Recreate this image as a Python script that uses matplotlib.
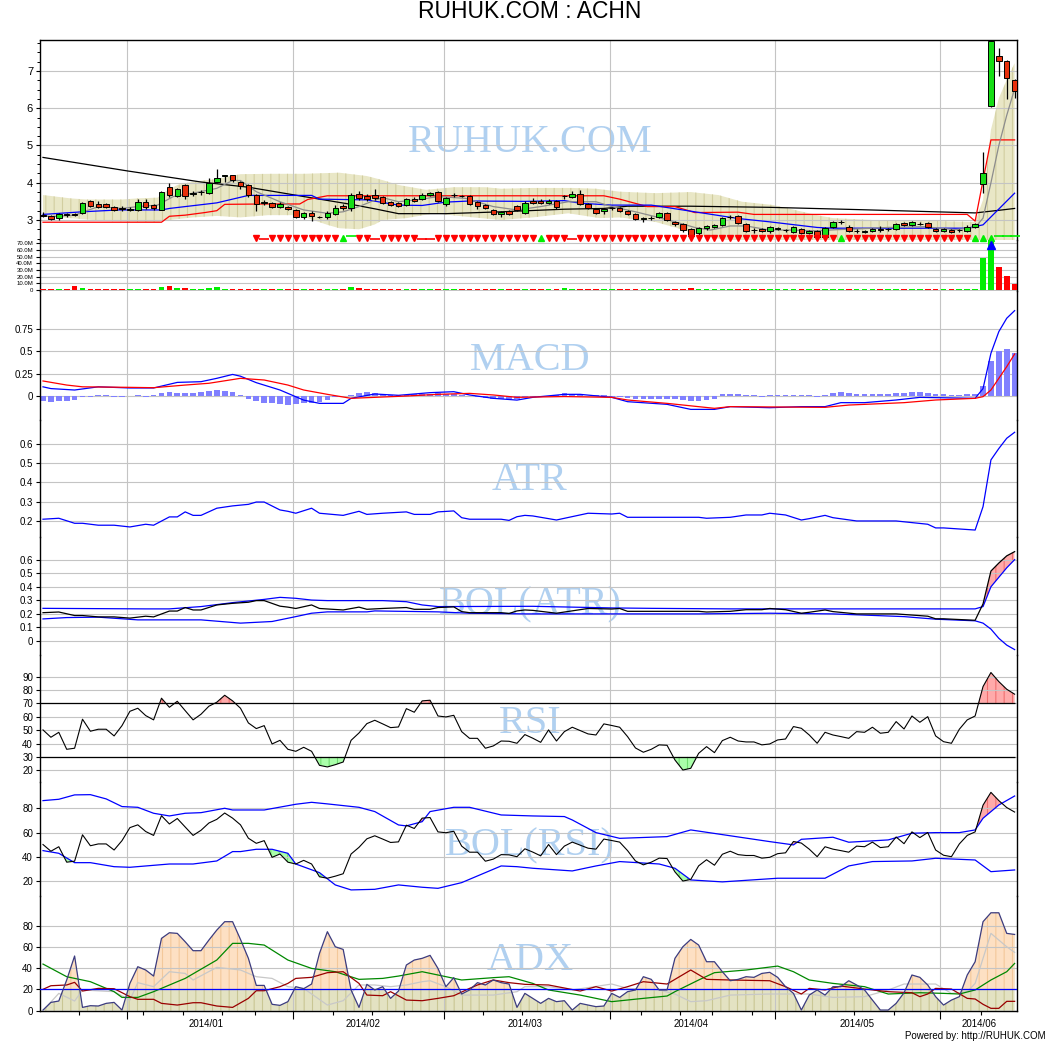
import numpy as np
import matplotlib
matplotlib.use("Agg")
import matplotlib.pyplot as plt
from matplotlib.patches import Polygon

# ---------------- data (ACHN, daily, Dec 2013 - Jun 2014) ----------------
opens = [3.14, 3.11, 3.05, 3.15, 3.16, 3.19, 3.51, 3.43, 3.43, 3.35,
         3.31, 3.28, 3.27, 3.48, 3.39, 3.27, 3.89, 3.65, 3.94, 3.70,
         3.74, 3.72, 4.02, 4.19, 4.20, 4.02, 3.94, 3.67, 3.46, 3.46,
         3.35, 3.35, 3.27, 3.08, 3.19, 3.09, 3.08, 3.16, 3.38, 3.32,
         3.70, 3.64, 3.67, 3.62, 3.48, 3.46, 3.40, 3.56, 3.56, 3.67,
         3.75, 3.43, 3.66, 3.65, 3.64, 3.48, 3.40, 3.27, 3.16, 3.24,
         3.38, 3.19, 3.51, 3.51, 3.46, 3.51, 3.64, 3.62, 3.70, 3.43,
         3.30, 3.24, 3.32, 3.32, 3.24, 3.16, 3.03, 3.05, 3.08, 3.19,
         2.95, 2.89, 2.76, 2.65, 2.79, 2.81, 2.87, 3.07, 3.11, 2.89,
         2.73, 2.76, 2.70, 2.76, 2.73, 2.68, 2.76, 2.65, 2.70, 2.54,
         2.81, 2.94, 2.81, 2.70, 2.68, 2.70, 2.76, 2.75, 2.76, 2.92,
         2.86, 2.89, 2.92, 2.76, 2.70, 2.73, 2.73, 2.70, 2.81, 3.97,
         6.05, 7.40, 7.26, 6.75]
closes = [3.11, 3.03, 3.16, 3.13, 3.14, 3.46, 3.38, 3.36, 3.36, 3.27,
          3.30, 3.29, 3.48, 3.36, 3.31, 3.75, 3.67, 3.83, 3.65, 3.72,
          3.75, 3.99, 4.13, 4.20, 4.07, 3.91, 3.67, 3.43, 3.47, 3.35,
          3.43, 3.30, 3.08, 3.19, 3.10, 3.08, 3.19, 3.32, 3.32, 3.67,
          3.59, 3.56, 3.59, 3.46, 3.40, 3.38, 3.56, 3.51, 3.67, 3.72,
          3.51, 3.59, 3.67, 3.64, 3.43, 3.38, 3.32, 3.16, 3.21, 3.16,
          3.27, 3.46, 3.46, 3.46, 3.51, 3.35, 3.65, 3.70, 3.43, 3.32,
          3.19, 3.30, 3.33, 3.24, 3.16, 3.03, 3.03, 3.06, 3.19, 3.00,
          2.89, 2.73, 2.57, 2.79, 2.84, 2.87, 3.05, 3.08, 2.92, 2.70,
          2.74, 2.70, 2.81, 2.77, 2.74, 2.81, 2.65, 2.70, 2.54, 2.78,
          2.95, 2.95, 2.70, 2.71, 2.69, 2.76, 2.73, 2.75, 2.89, 2.86,
          2.95, 2.89, 2.81, 2.70, 2.76, 2.68, 2.73, 2.81, 2.88, 4.25,
          7.80, 7.28, 6.82, 6.46]
highs = [3.22, 3.13, 3.19, 3.19, 3.19, 3.48, 3.54, 3.51, 3.46, 3.38,
         3.38, 3.35, 3.56, 3.56, 3.43, 3.78, 3.99, 3.86, 3.97, 3.78,
         3.80, 4.13, 4.37, 4.22, 4.22, 4.05, 3.97, 3.70, 3.54, 3.48,
         3.48, 3.38, 3.30, 3.21, 3.24, 3.11, 3.24, 3.40, 3.43, 3.72,
         3.78, 3.70, 3.83, 3.64, 3.51, 3.48, 3.59, 3.62, 3.72, 3.75,
         3.78, 3.62, 3.72, 3.67, 3.67, 3.51, 3.43, 3.30, 3.24, 3.27,
         3.40, 3.51, 3.59, 3.56, 3.56, 3.54, 3.67, 3.78, 3.80, 3.46,
         3.32, 3.32, 3.35, 3.35, 3.27, 3.19, 3.08, 3.11, 3.21, 3.21,
         2.97, 2.92, 2.79, 2.81, 2.87, 2.89, 3.08, 3.13, 3.13, 2.92,
         2.79, 2.79, 2.84, 2.81, 2.76, 2.84, 2.79, 2.73, 2.73, 2.81,
         2.97, 3.00, 2.87, 2.76, 2.73, 2.79, 2.84, 2.78, 2.92, 2.95,
         2.97, 2.95, 2.95, 2.79, 2.79, 2.76, 2.76, 2.87, 2.92, 4.83,
         8.10, 7.61, 7.30, 6.79]
lows = [3.08, 3.00, 3.01, 3.08, 3.10, 3.16, 3.35, 3.33, 3.33, 3.24,
        3.24, 3.24, 3.25, 3.30, 3.28, 3.27, 3.62, 3.62, 3.56, 3.65,
        3.66, 3.70, 4.00, 4.02, 4.02, 3.83, 3.62, 3.25, 3.40, 3.32,
        3.33, 3.27, 3.05, 3.03, 2.98, 3.05, 3.03, 3.14, 3.27, 3.25,
        3.54, 3.50, 3.54, 3.43, 3.38, 3.35, 3.38, 3.48, 3.54, 3.64,
        3.48, 3.38, 3.62, 3.62, 3.40, 3.30, 3.30, 3.13, 3.08, 3.13,
        3.24, 3.16, 3.43, 3.43, 3.43, 3.30, 3.56, 3.59, 3.40, 3.30,
        3.16, 3.16, 3.27, 3.21, 3.13, 3.00, 2.95, 3.00, 3.05, 2.97,
        2.84, 2.68, 2.54, 2.57, 2.73, 2.78, 2.84, 3.03, 2.89, 2.68,
        2.65, 2.68, 2.65, 2.73, 2.68, 2.65, 2.62, 2.62, 2.52, 2.52,
        2.79, 2.89, 2.68, 2.65, 2.65, 2.68, 2.68, 2.70, 2.73, 2.84,
        2.84, 2.86, 2.78, 2.68, 2.68, 2.65, 2.68, 2.68, 2.79, 3.72,
        6.02, 6.87, 6.25, 6.27]
volume_m = [1.5, 1.5, 1.2, 1.0, 6.0, 3.5, 1.2, 1.5, 1.5, 2.0,
            1.2, 1.2, 1.5, 2.0, 2.0, 4.0, 6.5, 2.5, 3.0, 1.0,
            1.5, 2.5, 4.0, 1.5, 1.5, 1.5, 2.0, 2.0, 1.0, 2.0,
            1.0, 1.5, 1.5, 1.0, 1.5, 1.0, 1.2, 1.5, 1.5, 4.0,
            3.0, 1.5, 1.5, 1.5, 1.5, 1.5, 1.2, 1.5, 1.5, 1.2,
            1.5, 1.2, 1.0, 1.0, 1.5, 1.5, 1.5, 1.5, 1.2, 1.5,
            1.5, 1.2, 1.5, 1.5, 1.2, 1.5, 3.0, 1.2, 1.5, 1.5,
            1.5, 1.2, 1.0, 1.5, 1.5, 1.5, 1.0, 1.2, 1.5, 1.5,
            1.5, 1.5, 2.5, 1.0, 1.2, 1.2, 1.5, 1.0, 1.5, 1.5,
            1.2, 1.5, 1.5, 1.5, 1.2, 1.2, 1.5, 1.5, 1.5, 1.5,
            1.5, 1.2, 1.5, 1.2, 1.0, 1.2, 2.0, 1.0, 1.5, 1.2,
            1.5, 1.2, 1.5, 1.5, 1.2, 1.5, 1.0, 1.2, 1.0, 48.0,
            95.0, 35.0, 21.0, 9.0]
# one signal per bar: v = sell triangle, ^ = buy triangle, - / = = dashes, blank = none
signals = ("                           v-vvvvvvvvv^=vv-vvvvv--vvvvvvvvvvvvv^vvv-"
           "vvvvvvvvvvvvvvvvvvvvvvvvvvvvvvvvv^vvvvvvvvvvvvvvvv^^^===")

# price overlays: (bar, value) vertices
ma_long = [(0, 4.68), (10.6, 4.32), (20, 4.02), (26, 3.88), (33, 3.63), (39, 3.42), (42, 3.30),
           (45, 3.17), (51, 3.17), (58, 3.22), (66, 3.29), (71, 3.31), (74, 3.37), (82, 3.37),
           (92, 3.34), (103, 3.28), (113, 3.22), (118, 3.19), (121, 3.26), (123, 3.31)]
mid_blue = [(0, 3.15), (5, 3.22), (9.6, 3.27), (15, 3.27), (16, 3.31), (22, 3.46), (26, 3.66),
            (34, 3.66), (35, 3.56), (41, 3.54), (45, 3.40), (48, 3.39), (51, 3.48), (54, 3.51),
            (61, 3.50), (66, 3.52), (68, 3.45), (72, 3.40), (77, 3.40), (82.5, 3.22), (88, 3.04),
            (92, 2.95), (98, 2.80), (100, 2.78), (117, 2.78), (119, 2.87), (123, 3.72)]
stop_red = [(0, 2.94), (15, 2.94), (16, 3.10), (18, 3.13), (20.5, 3.20), (22, 3.25), (23, 3.42),
            (28, 3.43), (32.5, 3.43), (33.5, 3.55), (36, 3.65), (71, 3.65), (73, 3.56), (76.5, 3.36),
            (80, 3.36), (82.5, 3.20), (88, 3.21), (90, 3.15), (117, 3.15), (118, 2.97), (120, 5.15),
            (123, 5.15)]
ma_short = [(0, 3.12), (1, 3.09), (4, 3.13), (7, 3.36), (10, 3.31), (12, 3.36), (14.5, 3.40),
            (16.5, 3.63), (19, 3.72), (22, 3.85), (24, 4.06), (25, 4.06), (27, 3.76), (30, 3.49),
            (33, 3.27), (36, 3.18), (38, 3.22), (40, 3.36), (41.5, 3.49), (43, 3.60), (45, 3.49),
            (48, 3.56), (50, 3.63), (53.5, 3.58), (57, 3.36), (60, 3.27), (63, 3.36), (66.5, 3.49),
            (70, 3.49), (72, 3.36), (75, 3.22), (77.5, 3.09), (80, 2.95), (82.5, 2.80), (84.5, 2.73),
            (87, 2.84), (89, 2.84), (92, 2.73), (94.5, 2.73), (98, 2.71), (100.5, 2.74), (103, 2.76),
            (107, 2.80), (111.5, 2.82), (115.5, 2.74), (118, 2.80), (119, 3.05), (120, 4.00),
            (121, 5.00), (122, 5.81), (123, 6.52)]
band_up = [(0, 3.67), (3.5, 3.58), (5.5, 3.55), (10, 3.55), (12, 3.58), (14.5, 3.60), (15.5, 3.76),
           (17, 3.94), (19, 4.03), (22, 4.10), (25, 4.23), (29, 4.24), (33, 4.24), (37.5, 4.27),
           (41, 4.18), (43, 4.07), (45, 3.94), (48.5, 3.81), (52, 3.88), (56, 3.88), (58, 3.84),
           (62, 3.86), (67, 3.86), (70, 3.84), (73, 3.76), (77.5, 3.72), (82, 3.75), (85.5, 3.67),
           (88.5, 3.49), (92.5, 3.40), (98, 3.13), (100, 3.05), (105, 3.00), (111.5, 2.98),
           (118, 2.95), (119, 3.54), (120, 5.42), (121, 6.27), (122, 6.76), (123, 7.21)]
band_lo = [(0, 3.09), (3.5, 3.05), (8, 2.97), (14.5, 2.94), (16, 3.00), (19, 3.07), (22, 3.11),
           (25, 3.07), (28.5, 3.13), (31.5, 3.13), (33.5, 3.05), (36, 2.87), (37.5, 2.78), (40, 2.75),
           (42, 2.88), (43, 3.00), (46, 3.05), (49.5, 3.18), (53.5, 3.09), (58, 3.00), (62, 3.07),
           (66.5, 3.18), (70.5, 3.05), (73, 3.07), (77.5, 2.95), (80, 2.80), (82.5, 2.64), (85, 2.52),
           (88, 2.40), (118, 2.40), (120, 1.50), (123, 1.00)]

# MACD
macd_line = [(0, .10), (1, .08), (4, .064), (7, .10), (11, .087), (14, .087), (17, .15), (20, .158),
             (22, .196), (24, .24), (25, .22), (27, .147), (30, .064), (31, .026), (33, -.05),
             (35, -.087), (38, -.087), (39, -.03), (42, .019), (45, .004), (49, .034), (52, .045),
             (54, .008), (57, -.03), (60, -.05), (62, -.019), (66, .015), (68, .015), (72, -.019),
             (74, -.068), (79, -.098), (82, -.155), (85, -.155), (87, -.124), (92, -.136), (96, -.124),
             (99, -.124), (101, -.079), (104, -.079), (108, -.049), (111, -.019), (118, -.03),
             (119, .08), (120, .479), (121, .724), (122, .875), (123, .961)]
macd_signal = [(0, .166), (3, .12), (5, .10), (11, .094), (14, .09), (18, .12), (21, .14), (25, .196),
               (28, .177), (31, .12), (33, .064), (36, .015), (39, -.03), (42, -.019), (46, -.004),
               (50, .015), (54, .026), (57, .008), (60, -.019), (66, -.01), (72, -.019), (74, -.049),
               (79, -.087), (85, -.143), (87, -.124), (99, -.132), (102, -.106), (109, -.079),
               (113, -.049), (118, -.03), (119, -.011), (120, .064), (121, .196), (122, .328),
               (123, .471)]
macd_hist = [-0.06, -0.068, -0.057, -0.057, -0.05, -0.02, -0.01, 0.004, 0.004, -0.015,
             -0.015, -0.008, 0.004, -0.01, 0.008, 0.026, 0.038, 0.026, 0.026, 0.026,
             0.04, 0.053, 0.064, 0.053, 0.038, 0.004, -0.038, -0.057, -0.08, -0.08,
             -0.09, -0.10, -0.098, -0.087, -0.08, -0.068, -0.05, -0.02, -0.004, 0.011,
             0.026, 0.038, 0.03, 0.02, 0.008, 0.004, 0.011, 0.015, 0.02, 0.023,
             0.026, 0.02, 0.015, 0.004, -0.008, -0.019, -0.026, -0.034, -0.038, -0.042,
             -0.042, -0.01, -0.01, -0.01, -0.008, 0.004, 0.026, 0.02, 0.004, -0.005,
             0.004, 0.004, -0.019, -0.019, -0.03, -0.034, -0.038, -0.038, -0.038, -0.042,
             -0.042, -0.05, -0.057, -0.057, -0.05, -0.034, 0.015, 0.015, 0.015, 0.004,
             0.004, -0.01, 0.004, 0.004, 0.004, 0.004, 0.004, 0.004, -0.01, 0.004,
             0.026, 0.04, 0.026, 0.015, 0.015, 0.015, 0.015, 0.015, 0.026, 0.026,
             0.04, 0.04, 0.026, 0.015, 0.015, 0.004, 0.004, 0.015, 0.015, 0.11,
             0.39, 0.505, 0.528, 0.486]

# ATR and its bands
atr = [(0, .209), (2, .214), (4, .188), (5, .188), (7, .178), (9, .178), (11, .169), (13, .183),
       (14, .178), (16, .221), (17, .221), (18, .247), (19, .229), (20, .229), (22, .266), (24, .278),
       (26, .286), (27, .298), (28, .298), (30, .257), (31, .25), (32, .24), (34, .266), (35, .24),
       (38, .229), (40, .25), (41, .234), (43, .24), (46, .247), (47, .234), (49, .234), (50, .247),
       (52, .252), (53, .217), (54, .209), (58, .209), (59, .203), (60, .222), (61, .229), (62, .226),
       (65, .205), (69, .24), (72, .236), (73, .24), (74, .219), (83, .219), (84, .214), (87, .219),
       (89, .231), (91, .231), (92, .24), (94, .231), (96, .205), (97, .212), (99, .229), (100, .217),
       (103, .2), (108, .2), (112, .183), (113, .164), (114, .164), (118, .153), (119, .274),
       (120, .516), (121, .575), (122, .628), (123, .659)]
atr_up = [(0, .241), (13, .237), (16, .237), (20, .254), (24, .283), (28, .307), (30, .322), (32, .315),
          (34, .302), (36, .298), (43, .298), (46, .29), (48, .266), (50, .254), (62, .256), (72, .244),
          (77, .241), (87, .237), (118, .237), (119, .254), (120, .40), (121, .47), (122, .54), (123, .60)]
atr_lo = [(0, .163), (3, .173), (7, .176), (12, .156), (20, .156), (25, .132), (29, .144), (32, .18),
          (34, .205), (36, .215), (41, .215), (42, .222), (50, .215), (54, .205), (61, .2), (72, .2),
          (83, .2), (92, .205), (100, .2), (109, .18), (113, .161), (118, .149), (119, .132),
          (120, .088), (121, .02), (122, -.03), (123, -.063)]

# RSI and its bands
rsi = [50.2, 44.7, 48.4, 35.7, 36.5, 58.2, 49.2, 50.7, 50.7, 45.7,
       53.4, 64.1, 66.4, 60.9, 57.7, 73.9, 67.1, 71.6, 64.6, 57.7,
       61.9, 67.9, 70.9, 76.1, 71.9, 66.4, 55.4, 51.2, 53.4, 39.7,
       42.4, 35.7, 34.2, 37.2, 34.2, 23.7, 22.5, 24.2, 26.2, 42.4,
       47.9, 54.9, 57.4, 54.7, 51.9, 52.4, 66.1, 63.4, 71.9, 72.4,
       60.6, 59.9, 61.1, 48.9, 43.9, 43.9, 36.5, 38.2, 41.9, 41.7,
       40.2, 46.7, 44.0, 40.9, 50.2, 41.9, 48.9, 52.2, 49.7, 47.2,
       46.4, 54.7, 53.5, 52.2, 45.2, 36.7, 33.5, 35.7, 39.0, 38.7,
       27.7, 20.2, 21.5, 32.7, 37.7, 33.2, 42.2, 44.7, 41.9, 41.2,
       41.2, 39.0, 39.7, 42.7, 43.4, 52.7, 51.4, 46.4, 40.2, 48.4,
       46.4, 45.2, 43.9, 48.9, 48.4, 52.2, 47.7, 48.4, 56.4, 50.9,
       60.6, 55.9, 60.1, 45.7, 41.4, 40.2, 50.7, 57.7, 60.6, 82.6,
       93.1, 86.3, 80.6, 76.9]
rsi_up = [(0, 86.3), (2, 87.4), (4, 91), (6, 91.2), (8, 87.7), (10, 81.4), (12, 80.8), (14, 75.9),
          (16, 73.7), (18, 75.9), (20, 76.4), (23, 80), (24, 78.6), (28, 78.6), (32, 83.3), (34, 84.9),
          (36, 83.6), (40, 80.8), (42, 77.3), (45, 66.3), (46, 65.5), (48, 69), (49, 77.3), (52, 80.8),
          (54, 80.8), (58, 74.5), (62, 73.7), (66, 73.2), (67, 70.4), (70, 60), (73, 55.3), (79, 56.7),
          (82, 62.2), (92, 52.6), (95, 49.9), (96, 54.5), (100, 56.2), (102, 52.1), (107, 54),
          (110, 59.5), (113, 60), (116, 60), (118, 62.2), (119, 71.8), (121, 82.7), (123, 90.1)]
rsi_lo = [(0, 45.2), (2, 43), (4, 35.3), (6, 35.3), (9, 32), (11, 31.5), (16, 34.2), (19, 34.2),
          (22, 36.7), (24, 44.4), (25, 44.4), (27, 46.3), (29, 46.3), (31, 43), (32, 34.2), (35, 27.1),
          (37, 17), (39, 12.9), (42, 13.4), (45, 17), (48, 15.1), (50, 14.2), (53, 18.9), (58, 32.6),
          (60, 32), (62, 30.7), (67, 28.5), (70, 32.6), (73, 36.2), (78, 34.2), (80, 30.7), (82, 21.1),
          (86, 19.5), (93, 22.5), (99, 22.5), (102, 32.6), (105, 36.2), (110, 36.7), (113, 38.9),
          (118, 37.5), (120, 27.9), (123, 29.3)]

# ADX panel
dx = [0.6, 7.8, 9.1, 28.9, 51.5, 3.1, 4.7, 4.4, 6.9, 7.8,
      0.6, 25.7, 41.4, 38.3, 32.6, 68.1, 73.4, 72.8, 64.9, 56.5,
      56.5, 66.5, 75.9, 83.8, 83.8, 67.1, 49.3, 23.8, 23.8, 6.0,
      5.0, 8.5, 22.6, 20.7, 25.1, 54.0, 74.4, 60.2, 57.7, 19.5,
      3.1, 24.8, 19.5, 22.6, 11.6, 18.5, 43.0, 47.7, 49.3, 52.1,
      39.8, 22.6, 31.1, 15.7, 19.5, 26.4, 24.2, 28.9, 26.4, 25.1,
      3.1, 16.3, 11.6, 6.9, 11.6, 8.5, 9.4, 0.6, 6.9, 5.3,
      3.8, 4.4, 16.3, 12.5, 17.9, 19.5, 32.0, 29.5, 19.5, 19.5,
      49.3, 60.2, 67.1, 61.8, 46.1, 46.1, 36.7, 28.2, 29.5, 32.0,
      31.4, 35.1, 36.1, 31.4, 22.6, 16.3, 0.6, 14.7, 19.5, 14.7,
      22.6, 22.6, 28.2, 24.2, 19.5, 10.0, 0.6, 0.6, 6.9, 16.9,
      33.6, 31.4, 24.2, 13.2, 5.3, 10.0, 13.2, 33.6, 46.1, 83.8,
      92.2, 92.2, 72.8, 71.8]
adx_line = [(0, 43.9), (3, 32), (6, 27.3), (9, 17.9), (10, 12.5), (12, 12.5), (14, 17.9), (17, 27.3),
            (18, 30.4), (22, 47.7), (24, 63.4), (26, 63.4), (28, 61.8), (31, 47.7), (34, 39.8),
            (37, 36.7), (40, 29.5), (43, 30.4), (45, 32.6), (48, 36.7), (50, 33.6), (53, 28.9),
            (57, 31.1), (59, 32), (62, 25.7), (64, 19.5), (68, 14.7), (72, 8.5), (76, 11.6), (79, 13.8),
            (80, 17.9), (83, 28.9), (85, 35.8), (89, 38.3), (93, 42), (95, 36.7), (97, 28.9),
            (100, 25.7), (104, 22.6), (107, 15.7), (111, 16.9), (114, 16.3), (116, 15.7), (118, 19.5),
            (120, 28.9), (122, 36.7), (123, 44.5)]
di_minus = [(0, 20.1), (1, 23.5), (3, 24.2), (4, 26.7), (5, 18.5), (7, 21), (9, 20.7), (11, 13.2),
            (12, 10.7), (14, 10.7), (15, 6.9), (17, 5.3), (19, 7.5), (20, 7.5), (22, 4.4), (24, 3.1),
            (26, 11.6), (27, 18.8), (28, 18.8), (30, 22.6), (31, 25.7), (32, 30.4), (34, 31.4),
            (36, 35.8), (38, 36.7), (40, 25.7), (41, 14.7), (43, 14.1), (44, 17.9), (46, 10), (48, 9.4),
            (50, 11.6), (52, 14.1), (54, 21), (55, 24.2), (57, 28.9), (59, 26.4), (61, 24.8), (64, 24.2),
            (68, 18.5), (70, 22.6), (72, 18.5), (74, 22.6), (76, 27.3), (79, 25.1), (82, 38.3),
            (84, 29.5), (87, 28.9), (92, 28.2), (94, 22.6), (96, 15.7), (97, 21), (99, 19.5),
            (101, 23.2), (104, 20.4), (107, 17.9), (110, 16.9), (111, 13.2), (112, 15.7), (113, 21),
            (115, 20.4), (117, 11.6), (118, 11), (119, 6), (120, 2.2), (121, 2.2), (122, 8.8), (123, 8.8)]
di_plus = [(0, 0), (2, 16.3), (4, 9.1), (5, 19.5), (9, 17.9), (11, 10), (12, 26.4), (14, 22.6),
           (16, 36.7), (18, 35.1), (19, 28.9), (22, 40.8), (25, 38.3), (27, 32), (29, 30.4), (31, 22.6),
           (33, 21), (36, 5.3), (38, 9.4), (40, 24.2), (42, 24.2), (44, 22.6), (46, 24.2), (48, 27.3),
           (49, 28.2), (51, 22.6), (53, 14.7), (57, 14.7), (60, 17.9), (61, 22.6), (64, 22.6),
           (67, 19.5), (72, 25.1), (74, 21), (78, 19.5), (80, 15.7), (82, 8.5), (84, 9.4), (87, 14.7),
           (92, 15.7), (97, 15.7), (100, 12.5), (104, 13.2), (107, 19.5), (109, 25.1), (113, 25.1),
           (115, 16.3), (117, 17.9), (118, 25.7), (120, 72.8), (122, 60.2), (123, 54.9)]

# x axis: vertical grid lines, weekly ticks and month labels (in bar units)
grid_x = [10.6, 31.7, 50.75, 71.75, 92.7, 113.6]
week_ticks = [4.6, 12.7, 17.7, 22.6, 26.8, 36.7, 41.6, 45.7, 55.7, 60.7, 65.7, 75.7, 80.7,
              84.7, 89.7, 97.7, 102.7, 107.7, 118.7]
months = [(20.6, "2014/01"), (40.5, "2014/02"), (61, "2014/03"), (82.1, "2014/04"),
          (103, "2014/05"), (118.5, "2014/06")]

# ---------------- figure ----------------
plt.rcParams['font.family'] = ['Liberation Sans', 'DejaVu Sans']
plt.rcParams['hatch.linewidth'] = 0.8

W, H = 1062, 1052
fig = plt.figure(figsize=(W / 100, H / 100), dpi=100)
xs = np.arange(len(closes))
o, c, hi, lo = map(np.array, (opens, closes, highs, lows))
up = c >= o
GRID = '#c4c4c4'
MARK = '#b0d0f0'


def xy(pts):
    a = np.array(pts, dtype=float)
    return a[:, 0], a[:, 1]


def panel(top, bottom, ylim, ticks, labels, mark, mark_y, fs=7):
    ax = fig.add_axes([40 / W, 1 - bottom / H, 977 / W, (bottom - top) / H])
    ax.set_xlim(-0.38, 123.3)
    ax.set_ylim(*ylim)
    ax.set_yticks(ticks)
    ax.set_yticklabels(labels, fontsize=fs)
    ax.tick_params(axis='y', direction='out', length=3, width=0.8, pad=2)
    ax.tick_params(axis='x', bottom=False, labelbottom=False)
    ax.spines['top'].set_visible(False)
    ax.spines['bottom'].set_visible(False)
    ax.spines['left'].set_linewidth(1.0)
    ax.spines['right'].set_linewidth(1.0)
    ax.patch.set_alpha(0)
    for t in ticks:
        ax.axhline(t, color=GRID, lw=0.8, zorder=1.5)
    for g in grid_x:
        ax.axvline(g, color=GRID, lw=0.8, zorder=1.5)
    ax.text(0.5015, mark_y, mark, transform=ax.transAxes, ha='center', va='center',
            fontsize=29, color=MARK, family=['Liberation Serif', 'DejaVu Serif'], zorder=0.4)
    return ax


def hatched(ax, verts, face, hatch_col, clip=None):
    a = Polygon(verts, closed=True, facecolor=face, edgecolor='none', lw=0, zorder=1)
    b = Polygon(verts, closed=True, facecolor='none', edgecolor=hatch_col, lw=0, hatch='||', zorder=1.1)
    for p in (a, b):
        ax.add_patch(p)
        if clip is not None:
            p.set_clip_path(clip)


def beyond(ax, sx, sy, bx, by, above, face, hatch_col, ylim):
    """fill between series and band where the series lies outside the band"""
    sx, sy, bx, by = map(np.asarray, (sx, sy, bx, by))
    if above:
        area = np.c_[np.r_[sx, sx[::-1]], np.r_[sy, np.full(len(sx), ylim[0])]]
        clip = Polygon(np.c_[np.r_[bx, bx[::-1]], np.r_[by, np.full(len(bx), ylim[1])]],
                       closed=True, transform=ax.transData)
    else:
        area = np.c_[np.r_[sx, sx[::-1]], np.r_[sy, np.full(len(sx), ylim[1])]]
        clip = Polygon(np.c_[np.r_[bx, bx[::-1]], np.r_[by, np.full(len(bx), ylim[0])]],
                       closed=True, transform=ax.transData)
    hatched(ax, area, face, hatch_col, clip)


# --- price panel ---
P_LIM = (2.463, 7.832)
ax = panel(40, 240, P_LIM, [3, 4, 5, 6, 7], ['3', '4', '5', '6', '7'], 'RUHUK.COM', 0.49, fs=8)
ax.spines['top'].set_visible(True)
ax.spines['top'].set_linewidth(1.0)
ax.set_yticks(np.arange(2.5, 7.9, 0.25), minor=True)
ax.tick_params(axis='y', which='minor', direction='out', length=2, width=0.7)
ux, uy = xy(band_up)
lx, ly = xy(band_lo)
hatched(ax, np.c_[np.r_[ux, lx[::-1]], np.r_[uy, ly[::-1]]], '#e9e7c6', '#d2cea0')
for pts, col in [(ma_long, 'black'), (stop_red, '#ff0000'), (mid_blue, '#0000ff'), (ma_short, '#8c8c8c')]:
    px, py = xy(pts)
    ax.plot(px, py, color=col, lw=0.9, zorder=2)
ax.vlines(xs, lo, hi, color='black', lw=0.9, zorder=3)
ax.bar(xs, np.maximum(np.abs(c - o), 0.012), bottom=np.minimum(o, c), width=0.7,
       color=np.where(up, '#16dd16', '#e8300c'), edgecolor='black', lw=0.7, zorder=4)
sig_y = 2.53
for i, s in enumerate(signals):
    if s == 'v':
        ax.plot(i, sig_y, marker='v', color='#ff0000', ms=5, mec='#ff0000', clip_on=False, zorder=5)
    elif s == '^':
        ax.plot(i, sig_y, marker='^', color='#00ee00', ms=5, mec='#00ee00', clip_on=False, zorder=5)
    elif s == '-':
        ax.plot(i, sig_y - 0.04, marker='_', color='#ff0000', ms=7, mew=1.2, clip_on=False, zorder=5)
    elif s == '=':
        ax.plot(i, sig_y + 0.03, marker='_', color='#00ee00', ms=7, mew=1.2, clip_on=False, zorder=5)

# --- volume panel ---
vol_ticks = [0, 10, 20, 30, 40, 50, 60, 70]
ax = panel(240, 291, (-1.5, 75.0), vol_ticks, ['0'] + ['%.1fM' % v for v in vol_ticks[1:]], '', 0.5,
           fs=4.3)
ax.bar(xs, volume_m, width=0.72, color=np.where(up, '#00ee00', '#ff0000'), lw=0, zorder=3)
ax.plot(120, 68, marker='^', color='#0000ff', ms=6, zorder=5)

# --- MACD ---
ax = panel(291, 420, (-0.275, 1.183), [0, 0.25, 0.5, 0.75], ['0', '0.25', '0.5', '0.75'], 'MACD', 0.465)
ax.bar(xs, macd_hist, width=0.72, color='#8080ff', lw=0, zorder=2)
mx, my = xy(macd_line)
ax.plot(mx, my, color='#0000ff', lw=0.9, zorder=3)
sx_, sy_ = xy(macd_signal)
ax.plot(sx_, sy_, color='#ff0000', lw=0.9, zorder=3)

# --- ATR ---
ax = panel(420, 537, (0.117, 0.7226), [0.2, 0.3, 0.4, 0.5, 0.6],
           ['0.2', '0.3', '0.4', '0.5', '0.6'], 'ATR', 0.479)
ax_, ay_ = xy(atr)
ax.plot(ax_, ay_, color='#0000ff', lw=0.9, zorder=3)

# --- BOL(ATR) ---
BA_LIM = (-0.103, 0.767)
ax = panel(537, 655, BA_LIM, [0, 0.1, 0.2, 0.3, 0.4, 0.5, 0.6],
           ['0', '0.1', '0.2', '0.3', '0.4', '0.5', '0.6'], 'BOL(ATR)', 0.424)
bux, buy = xy(atr_up)
blx, bly = xy(atr_lo)
beyond(ax, ax_, ay_, bux, buy, True, '#ffaaaa', '#f07070', BA_LIM)
ax.plot(bux, buy, color='#0000ff', lw=0.9, zorder=3)
ax.plot(blx, bly, color='#0000ff', lw=0.9, zorder=3)
ax.plot(ax_, ay_, color='black', lw=0.9, zorder=3)

# --- RSI ---
r = np.array(rsi)
ax = panel(655, 782, (11.25, 106.2), list(range(20, 100, 10)),
           [str(v) for v in range(20, 100, 10)], 'RSI', 0.457)
for base, cond, face, hcol in [(70, r >= 70, '#ffaaaa', '#f07070'), (30, r <= 30, '#aaffaa', '#70dd70')]:
    ax.fill_between(xs, r, base, where=cond, interpolate=True, facecolor=face, edgecolor='none', lw=0, zorder=1)
    ax.fill_between(xs, r, base, where=cond, interpolate=True, facecolor='none', edgecolor=hcol,
                    lw=0, hatch='||', zorder=1.1)
ax.hlines([30, 70], -0.38, 123, color='black', lw=0.9, zorder=2)
ax.plot(xs, r, color='black', lw=0.8, zorder=3)

# --- BOL(RSI) ---
BR_LIM = (7.9, 101.6)
ax = panel(782, 896, BR_LIM, [20, 40, 60, 80], ['20', '40', '60', '80'], 'BOL(RSI)', 0.44)
rux, ruy = xy(rsi_up)
rlx, rly = xy(rsi_lo)
beyond(ax, xs, r, rux, ruy, True, '#ffaaaa', '#f07070', BR_LIM)
beyond(ax, xs, r, rlx, rly, False, '#aaffaa', '#70dd70', BR_LIM)
ax.plot(rux, ruy, color='#0000ff', lw=0.9, zorder=3)
ax.plot(rlx, rly, color='#0000ff', lw=0.9, zorder=3)
ax.plot(xs, r, color='black', lw=0.8, zorder=3)

# --- ADX ---
d = np.array(dx)
ax = panel(896, 1011, (-0.3, 108), [0, 20, 40, 60, 80], ['0', '20', '40', '60', '80'], 'ADX', 0.435)
ax.spines['bottom'].set_visible(True)
ax.spines['bottom'].set_linewidth(1.0)
ax.fill_between(xs, 0, d, facecolor='#e3e2c2', edgecolor='none', lw=0, zorder=1)
ax.fill_between(xs, 0, d, facecolor='none', edgecolor='#c9c694', lw=0, hatch='||', zorder=1.1)
ax.fill_between(xs, 20, d, where=d >= 20, interpolate=True, facecolor='#fde0c3', edgecolor='none', lw=0, zorder=1.2)
ax.fill_between(xs, 20, d, where=d >= 20, interpolate=True, facecolor='none', edgecolor='#f3c89a',
                lw=0, hatch='||', zorder=1.3)
for pts, col in [(di_plus, '#c8c8c8'), (adx_line, '#008800'), (di_minus, '#990000')]:
    px, py = xy(pts)
    ax.plot(px, py, color=col, lw=0.9, zorder=3)
ax.axhline(20, color='#0000ff', lw=0.9, zorder=3)
ax.plot(xs, d, color='#3c3c80', lw=0.9, zorder=4)
ax.tick_params(axis='x', bottom=True, direction='out', length=6, width=0.8)
ax.set_xticks(grid_x)
ax.set_xticks(week_ticks, minor=True)
ax.tick_params(axis='x', which='minor', bottom=True, direction='out', length=3, width=0.8)
for pos, lab in months:
    ax.text(pos, -0.115, lab, transform=ax.get_xaxis_transform(), ha='center', va='center', fontsize=7)

fig.text(530 / W, 1 - 12 / H, 'RUHUK.COM : ACHN', ha='center', va='center', fontsize=16.5)
fig.text(1046 / W, 1 - 1036 / H, 'Powered by: http://RUHUK.COM', ha='right', va='center', fontsize=7)

fig.savefig('out.png', dpi=100, facecolor='white')
